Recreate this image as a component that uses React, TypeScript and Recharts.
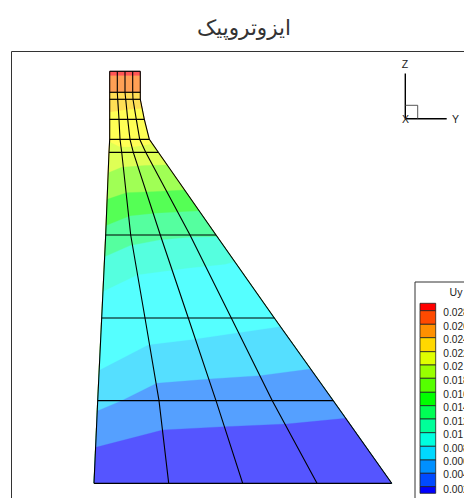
import React from "react";
import { ScatterChart, Scatter, XAxis, YAxis, ReferenceArea, ReferenceDot } from "recharts";

type P = { x: number; y: number };
const pts = (a: number[][]): P[] => a.map(([x, y]) => ({ x, y }));

const TITLE = "ایزوتروپیک";
const LEGEND_TITLE = "Uy";

// Mesh rows: nodal x positions, left to right, with row y
const rowY = [71.3, 92.3, 99.3, 119.3, 139.3, 152.3, 235, 318, 400.7, 483.3];
const col0 = [109.7, 109.7, 109.7, 109.7, 109.7, 109, 105.7, 101.7, 97.7, 94];
const col1 = [117.3, 117.3, 117.7, 119, 120, 121.7, 130.7, 145, 159, 168.7];
const col2 = [125, 125, 125.7, 127.7, 130, 133.3, 160.3, 188.3, 216, 242.7];
const col3 = [132.7, 132.7, 133, 136.3, 139.7, 145.7, 190, 231.3, 272.3, 317];
const col4 = [140.3, 140.3, 140.3, 144.3, 149.3, 158.3, 216, 274.3, 333.3, 391.7];
const columns = [col0, col1, col2, col3, col4];

// Contour boundaries, upper to lower
const b1 = pts([[109.7, 75.7], [140.3, 75.7]]);
const b2 = pts([[109.7, 92.3], [140.3, 92.3]]);
const b3 = pts([[109.7, 112.3], [125, 110], [142.3, 108.5]]);
const b4 = pts([[109.6, 142], [120, 147], [134, 147], [152.5, 144]]);
const b5 = pts([[108.5, 172.7], [121.7, 167.3], [145, 165.5], [166.5, 165]]);
const b6 = pts([[107.3, 199.3], [126.7, 192.7], [153.3, 191.7], [184.6, 190]]);
const b7 = pts([[106, 225.7], [130, 216], [156.7, 213.3], [199.3, 211]]);
const b8 = pts([[105, 256.7], [130, 245.7], [160, 240], [191.7, 237.3], [217.4, 237]]);
const b9 = pts([[103.3, 291.5], [137.5, 275], [188.3, 268.3], [225, 264.5], [234.5, 262]]);
const b10 = pts([[100, 370], [148.3, 345], [190, 340], [280.5, 326.7]]);
const b11 = pts([[97.4, 411], [121.7, 400.7], [156.7, 383.3], [210, 379], [260, 375.7], [310.5, 369]]);
const b12 = pts([[96, 447.3], [162.7, 430], [225, 426.7], [286.7, 424], [345.8, 418.3]]);
const topEdge = pts([[109.7, 71.3], [140.3, 71.3]]);

const contourLines = [topEdge, b1, b2, b3, b4, b5, b6, b7, b8, b9, b10, b11, b12];
const contourColors = [
  "#ff5555", "#ffa055", "#ffdf55", "#ffff55", "#dfff55", "#a0ff55", "#55ff55",
  "#55ff9f", "#55ffdf", "#55ffff", "#55dfff", "#55a0ff", "#5555ff",
];

const legendEdges = [303.3, 310.7, 324.3, 337.7, 351.7, 365, 378.3, 392.3, 405.7, 419, 432.7, 446.3, 460, 473.3, 486.7, 493.3];
const legendColors = [
  "#ff0000", "#ff4a00", "#ff9000", "#ffd800", "#dfff00", "#99ff00", "#55ff00", "#00ff00",
  "#00ff55", "#00ff99", "#00ffdf", "#00d8ff", "#0090ff", "#004aff", "#0000ff",
];
const legendValues = ["0.028", "0.026", "0.024", "0.022", "0.02", "0.018", "0.016", "0.014", "0.012", "0.01", "0.008", "0.006", "0.004", "0.002"];
const legendLabelY = [312.3, 326, 339.5, 353, 366.5, 380.3, 394, 407.5, 421.3, 434.5, 448.3, 461.3, 474.7, 489];

const frame = pts([[11.5, 498], [11.5, 51.5], [464, 51.5]]);
const triadZ = pts([[405.3, 73.5], [405.3, 118.7]]);
const triadY = pts([[405.3, 118.7], [446.7, 118.7]]);
const triadBox = pts([[405.3, 105.3], [417.7, 105.3], [417.7, 118.7]]);
const triadLabels = [
  { t: "Z", x: 405, y: 64 },
  { t: "X", x: 405.5, y: 119.5 },
  { t: "Y", x: 455.5, y: 119 },
];

const rightSide: P[] = rowY.map((y, i) => ({ x: col4[i], y }));
const leftSide: P[] = rowY.map((y, i) => ({ x: col0[i], y }));
const bandPolygon = (top: P[]): P[] => [
  ...top,
  ...rightSide.filter((p) => p.y > top[top.length - 1].y),
  ...[...leftSide].reverse().filter((p) => p.y > top[0].y),
];

const noDot = () => <g />;
const filled = (color: string) => (props: any) => {
  const d = (props.points as P[]).map((p, i) => `${i ? "L" : "M"}${p.x},${p.y}`).join("") + "Z";
  return <path d={d} fill={color} stroke={color} strokeWidth={0.3} />;
};

const Stroke = (data: P[], key: string, stroke: string, width: number) => (
  <Scatter
    key={key}
    data={data}
    isAnimationActive={false}
    shape={noDot}
    line={{ stroke, strokeWidth: width }}
    lineJointType="linear"
  />
);

const textDot = (key: string, x: number, y: number, value: string, size: number, position: any, family: string, fill = "#222") => (
  <ReferenceDot
    key={key}
    x={x}
    y={y}
    r={0}
    stroke="none"
    fill="none"
    ifOverflow="visible"
    label={{ value, position, offset: 0, fontSize: size, fontFamily: family, fill }}
  />
);

const SANS = "'Liberation Sans', Arial, sans-serif";

export default function App() {
  return (
    <div style={{ position: "absolute", left: 0, top: 0, width: 464, height: 498, overflow: "hidden", background: "#fff" }}>
      <ScatterChart width={464} height={498} margin={{ top: 0, right: 0, bottom: 0, left: 0 }}>
        <XAxis type="number" dataKey="x" domain={[0, 464]} hide allowDataOverflow />
        <YAxis type="number" dataKey="y" domain={[0, 498]} reversed hide allowDataOverflow />

        {Stroke(frame, "frame", "#333", 1)}

        {contourLines.map((top, i) => (
          <Scatter
            key={`band${i}`}
            data={bandPolygon(top)}
            isAnimationActive={false}
            shape={noDot}
            line={filled(contourColors[i])}
            lineJointType="linear"
          />
        ))}

        {rowY.map((y, r) => Stroke(columns.map((c) => ({ x: c[r], y })), `row${r}`, "#000", 1.2))}
        {columns.map((c, k) => Stroke(rowY.map((y, r) => ({ x: c[r], y })), `col${k}`, "#000", 1.1))}

        {Stroke(triadZ, "tz", "#000", 1.4)}
        {Stroke(triadY, "ty", "#000", 1.4)}
        {Stroke(triadBox, "tb", "#444", 0.9)}

        <ReferenceArea x1={415} x2={480} y1={282} y2={510} fill="#fff" fillOpacity={1} stroke="#333" strokeWidth={1} ifOverflow="visible" />
        {legendColors.map((c, i) => (
          <ReferenceArea
            key={`sw${i}`}
            x1={420}
            x2={435.7}
            y1={legendEdges[i]}
            y2={legendEdges[i + 1]}
            fill={c}
            fillOpacity={1}
            stroke="#222"
            strokeWidth={0.8}
            ifOverflow="visible"
          />
        ))}

        {textDot("title", 244, 27, TITLE, 21.5, "center", "'DejaVu Sans', sans-serif", "#333")}
        {triadLabels.map((l) => textDot(l.t, l.x, l.y, l.t, 10.5, "center", SANS))}
        {textDot("uy", 456, 292, LEGEND_TITLE, 10.5, "center", SANS)}
        {legendValues.map((v, i) => textDot(`v${i}`, 443.3, legendLabelY[i], v, 10.2, "right", SANS))}
      </ScatterChart>
    </div>
  );
}
